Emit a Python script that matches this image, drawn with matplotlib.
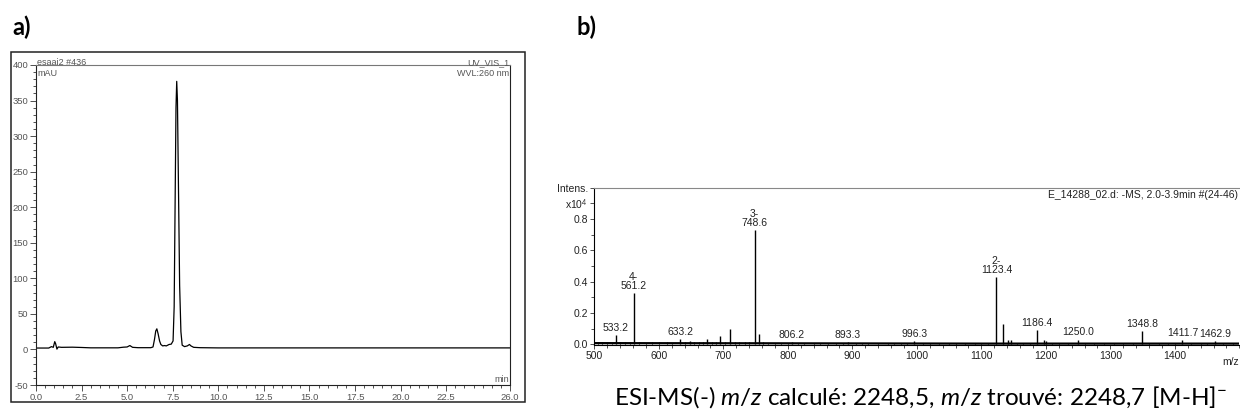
import matplotlib
matplotlib.use('Agg')
import matplotlib.pyplot as plt
from matplotlib.patches import Rectangle
from matplotlib.ticker import MultipleLocator

plt.rcParams['font.family'] = ['Liberation Sans', 'DejaVu Sans']
plt.rcParams['axes.unicode_minus'] = False
plt.rcParams['mathtext.fontset'] = 'custom'
plt.rcParams['mathtext.rm'] = 'Lato'
plt.rcParams['mathtext.it'] = 'Lato:italic'

# --- a) chromatogramme HPLC (UV 260 nm) ---
temps = [0.0, 0.7, 0.85, 0.95, 1.03, 1.08, 1.15, 1.22, 1.4, 2.0, 2.5, 3.0, 4.5, 4.8,
         5.0, 5.15, 5.3, 5.6, 6.3, 6.42, 6.5, 6.57, 6.63, 6.7, 6.78, 6.85, 6.95, 7.05,
         7.15, 7.3, 7.42, 7.52, 7.58, 7.63, 7.68, 7.72, 7.76, 7.82, 7.88, 7.95, 8.02,
         8.15, 8.3, 8.42, 8.5, 8.65, 9.0, 10.0, 26.0]
absorb = [2.0, 2.0, 4.0, 3.0, 11.0, 8.0, 0.5, 3.5, 3.0, 3.2, 2.8, 2.3, 2.3, 3.2,
          3.5, 5.5, 3.0, 2.5, 2.5, 3.5, 14, 26, 29, 22, 12, 7, 5, 5.5,
          5, 7, 7.5, 12, 60, 200, 340, 377, 350, 220, 90, 25, 6,
          4, 5, 7, 5, 3, 2.5, 2.2, 2.2]

xticks_a = [0, 2.5, 5.0, 7.5, 10.0, 12.5, 15.0, 17.5, 20.0, 22.5, 26.0]
xlabels_a = ['0.0', '2.5', '5.0', '7.5', '10.0', '12.5', '15.0', '17.5', '20.0', '22.5', '26.0']

# --- b) spectre ESI-MS(-) ---
mz_pics = [533.2, 561.2, 633.2, 648, 675, 695, 711, 748.6, 755, 806.2, 893.3, 996.3,
           1123.4, 1133, 1141, 1146, 1186.4, 1197, 1200, 1250.0, 1348.8, 1411.7, 1462.9]
int_pics = [0.060, 0.327, 0.033, 0.02, 0.035, 0.055, 0.10, 0.731, 0.067, 0.015, 0.012, 0.018,
            0.428, 0.13, 0.03, 0.025, 0.088, 0.025, 0.02, 0.03, 0.083, 0.025, 0.02]

mz_bruit = [505, 512, 520, 528, 540, 548, 555, 570, 580, 590, 600, 612, 620, 640, 655,
            662, 668, 682, 688, 702, 718, 725, 733, 740, 762, 770, 780, 790, 800, 815,
            825, 840, 850, 862, 875, 885, 905, 915, 925, 940, 955, 965, 975, 985, 1010,
            1020, 1035, 1050, 1060, 1075, 1090, 1100, 1110, 1155, 1165, 1175, 1210, 1220,
            1235, 1260, 1275, 1290, 1305, 1320, 1335, 1360, 1375, 1390, 1400, 1425, 1440,
            1450, 1475, 1490]
int_bruit = [0.016, 0.012, 0.014, 0.011, 0.015, 0.013, 0.012, 0.014, 0.011, 0.013, 0.012,
             0.015, 0.011, 0.013, 0.016, 0.012, 0.014, 0.013, 0.015, 0.014, 0.016, 0.012,
             0.014, 0.013, 0.012, 0.010, 0.011, 0.009, 0.010, 0.011, 0.009, 0.010, 0.008,
             0.010, 0.009, 0.011, 0.009, 0.010, 0.008, 0.009, 0.010, 0.008, 0.009, 0.010,
             0.009, 0.008, 0.010, 0.009, 0.008, 0.009, 0.010, 0.008, 0.009, 0.010, 0.009,
             0.011, 0.010, 0.009, 0.008, 0.010, 0.009, 0.008, 0.009, 0.010, 0.008, 0.009,
             0.010, 0.008, 0.009, 0.010, 0.008, 0.009, 0.008, 0.009]
ligne_mz = [500, 760, 1100, 1500]
ligne_int = [0.007, 0.006, 0.004, 0.004]

etiq_mz = [533.2, 561.2, 633.2, 748.6, 806.2, 893.3, 996.3, 1123.4, 1186.4, 1250.0,
           1348.8, 1411.7, 1462.9]
etiq_txt = ['533.2', '4-\n561.2', '633.2', '3-\n748.6', '806.2', '893.3', '996.3',
            '2-\n1123.4', '1186.4', '1250.0', '1348.8', '1411.7', '1462.9']
etiq_int = [0.060, 0.327, 0.033, 0.731, 0.015, 0.012, 0.018, 0.428, 0.088, 0.03,
            0.083, 0.025, 0.02]

fig = plt.figure(figsize=(12.4, 4.18), dpi=100)

# cadre extérieur du panneau a
fig.patches.append(Rectangle((0.0086, 0.0383), 0.4148, 0.838, transform=fig.transFigure,
                             fill=False, edgecolor='#222222', linewidth=1.1))

fig.text(0.010, 0.935, 'a)', fontsize=17, fontweight='bold', family='Lato', va='center')
fig.text(0.465, 0.935, 'b)', fontsize=17, fontweight='bold', family='Lato', va='center')

# panneau a
ax1 = fig.add_axes([0.029, 0.0789, 0.3823, 0.7656])
ax1.plot(temps, absorb, color='black', linewidth=0.9)
ax1.set_xlim(0, 26)
ax1.set_ylim(-50, 400)
ax1.set_xticks(xticks_a)
ax1.set_xticklabels(xlabels_a)
ax1.xaxis.set_minor_locator(MultipleLocator(0.5))
ax1.yaxis.set_major_locator(MultipleLocator(50))
ax1.yaxis.set_minor_locator(MultipleLocator(10))
ax1.tick_params(which='both', direction='out', labelsize=6.8, labelcolor='#555555',
                color='#333333', width=0.6, pad=1.5)
ax1.tick_params(which='major', length=4)
ax1.tick_params(which='minor', length=2)
ax1.spines['top'].set_color('#777777')
for s in ['left', 'bottom', 'right']:
    ax1.spines[s].set_color('#222222')
for s in ax1.spines.values():
    s.set_linewidth(0.8)
ax1.text(0.003, 0.993, 'esaai2 #436', transform=ax1.transAxes, fontsize=6.5,
         color='#555555', va='bottom')
ax1.text(0.003, 0.972, 'mAU', transform=ax1.transAxes, fontsize=6.5,
         color='#555555', va='center')
ax1.text(0.998, 0.993, 'UV_VIS_1', transform=ax1.transAxes, fontsize=6.5,
         color='#555555', va='bottom', ha='right')
ax1.text(0.998, 0.972, 'WVL:260 nm', transform=ax1.transAxes, fontsize=6.5,
         color='#555555', va='center', ha='right')
ax1.text(0.998, 0.018, 'min', transform=ax1.transAxes, fontsize=6.5,
         color='#555555', va='center', ha='right')

# panneau b
ax2 = fig.add_axes([0.4793, 0.1746, 0.5202, 0.3763])
ax2.plot(ligne_mz, ligne_int, color='black', linewidth=1.6)
ax2.vlines(mz_bruit, 0, int_bruit, color='black', linewidth=0.8)
ax2.vlines(mz_pics, 0, int_pics, color='black', linewidth=1.0)
for x, t, h in zip(etiq_mz, etiq_txt, etiq_int):
    ax2.annotate(t, (x, h), xytext=(0, 1.5), textcoords='offset points',
                 ha='center', va='bottom', fontsize=7.5, linespacing=0.9, color='#222222')
ax2.set_xlim(500, 1500)
ax2.set_ylim(-0.005, 1.0)
ax2.set_xticks([500, 600, 700, 800, 900, 1000, 1100, 1200, 1300, 1400])
ax2.xaxis.set_minor_locator(MultipleLocator(20))
ax2.set_yticks([0.0, 0.2, 0.4, 0.6, 0.8, 0.9, 1.0])
ax2.set_yticklabels(['0.0', '0.2', '0.4', '0.6', '0.8', 'x10$^{4}$', 'Intens.'])
ax2.yaxis.set_minor_locator(MultipleLocator(0.1))
ax2.tick_params(which='both', direction='out', labelsize=7.5, labelcolor='#222222',
                color='#333333', width=0.6, pad=1.5)
ax2.tick_params(which='major', length=3)
ax2.tick_params(which='minor', length=2)
ax2.spines['right'].set_visible(False)
ax2.spines['top'].set_color('#888888')
for s in ax2.spines.values():
    s.set_linewidth(0.8)
ax2.text(1487, -0.075, 'm/z', fontsize=7.5, ha='center', va='top', color='#222222',
         transform=ax2.get_xaxis_transform())
ax2.text(0.998, 0.985, 'E_14288_02.d: -MS, 2.0-3.9min #(24-46)', transform=ax2.transAxes,
         fontsize=7.5, ha='right', va='top', color='#222222')

fig.text(0.742, 0.05, 'ESI-MS(-) $\\mathit{m/z}$ calculé: 2248,5, $\\mathit{m/z}$ trouvé: 2248,7 [M-H]$^{-}$',
         fontsize=17.5, family='Lato', ha='center', va='center')

fig.savefig('out.png', dpi=100)
